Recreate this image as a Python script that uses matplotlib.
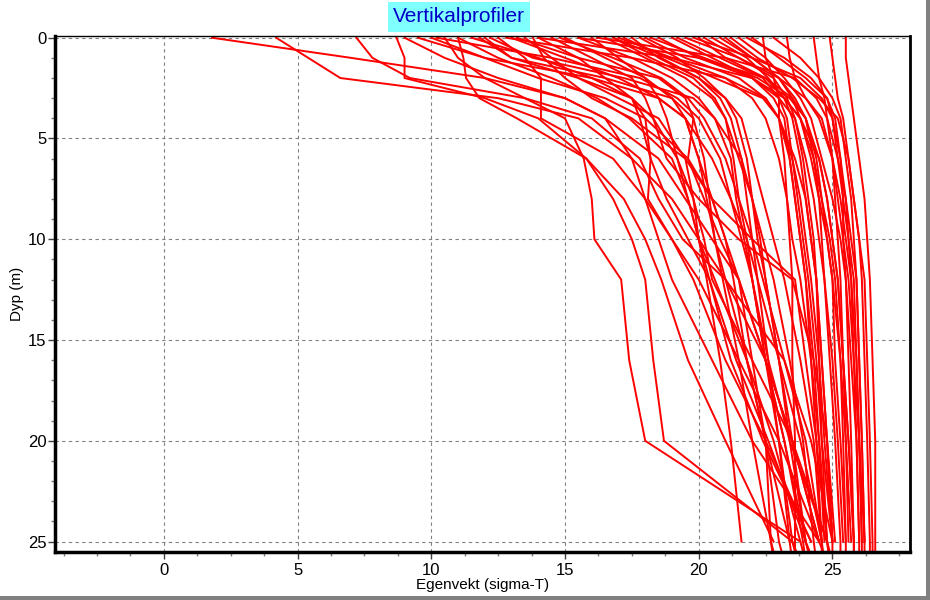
import numpy as np
import matplotlib
matplotlib.use("Agg")
import matplotlib.pyplot as plt
from matplotlib.ticker import MultipleLocator
from matplotlib.patches import Rectangle

# dybder (m) felles for alle profiler
dyp = [0, 1, 2, 3, 4, 6, 8, 10, 12, 16, 20, 25, 26]
nan = np.nan

# egenvekt (sigma-T) per profil, en verdi per dybde
ferske = [
    [1.8, 7.0, 12.0, 15.0, 16.5, 18.5, 19.5, 20.5, 21.5, 22.5, 23.5, 24.5, nan],
    [4.2, 5.4, 6.6, 12.5, 15.5, 17.5, 19.0, 20.0, 21.0, 22.5, 23.2, 24.0, 24.2],
    [7.2, 7.8, 9.2, 13.5, 15.0, 15.7, 16.0, 16.1, 17.1, 17.4, 18.0, 23.8, 24.0],
    [8.7, 9.0, 9.0, 12.0, 14.0, 15.8, 16.8, 17.5, 18.0, 18.3, 18.7, 23.5, 23.8],
    [11.0, 11.2, 11.3, 11.8, 13.2, 15.8, 17.2, 18.0, 18.6, 19.6, 21.0, 22.8, nan],
    [9.0, 10.5, 12.5, 15.0, 16.5, 17.5, 18.0, 18.5, 19.0, 20.5, 22.0, 24.5, nan],
]

middels = [
    [12.5, 13.5, 14.1, 14.1, 14.1, 16.8, 18.0, 19.0, 19.8, 21.0, 22.5, 24.2, nan],
    [10.0, 12.0, 14.0, 16.5, 18.0, 19.6, 20.2, 20.8, 21.5, 22.5, 23.5, 24.8, nan],
    [13.0, 15.0, 17.0, 18.5, 19.5, 20.5, 21.2, 21.8, 22.2, 23.0, 23.8, 24.6, nan],
    [14.0, 15.5, 16.5, 17.5, 17.8, 18.2, 18.8, 19.6, 20.4, 21.4, 22.6, 24.0, 24.3],
    [15.0, 16.5, 18.0, 19.0, 19.5, 20.0, 20.5, 21.0, 21.5, 22.0, 22.5, 23.0, 23.2],
    [11.5, 14.0, 16.0, 17.5, 18.0, 18.2, 18.1, 19.0, 20.0, 21.5, 23.0, 24.5, nan],
    [13.5, 14.5, 15.5, 17.0, 18.5, 19.5, 19.8, 20.0, 20.3, 20.8, 21.2, 21.6, nan],
    [12.0, 13.0, 15.5, 17.5, 18.3, 19.2, 19.6, 20.0, 20.6, 21.8, 22.8, 23.8, nan],
    [14.5, 16.0, 17.5, 18.0, 18.3, 18.8, 20.0, 21.5, 23.5, 24.3, 24.8, 25.0, nan],
    [16.0, 17.0, 18.0, 18.5, 18.8, 19.2, 19.8, 20.2, 20.5, 22.0, 23.5, 24.5, 24.8],
    [10.5, 11.0, 12.0, 13.5, 16.0, 17.8, 18.5, 19.4, 21.0, 23.2, 24.2, 25.0, nan],
    [15.5, 17.5, 19.0, 20.0, 20.6, 21.2, 21.4, 21.7, 22.0, 22.5, 23.0, 23.5, 23.7],
    [13.8, 14.2, 15.0, 16.0, 17.5, 19.5, 20.5, 21.0, 21.3, 21.8, 22.5, 22.7, 22.8],
    [16.5, 18.0, 19.5, 20.5, 21.0, 21.5, 22.0, 22.3, 22.5, 23.0, 23.4, 24.0, nan],
]

blandet = [
    [9.5, 12.0, 16.0, 18.5, 19.5, 20.0, 20.3, 20.6, 21.0, 21.8, 22.5, 23.4, nan],
    [11.8, 13.0, 16.5, 19.0, 19.8, 20.2, 20.4, 20.6, 20.9, 21.5, 22.0, 22.7, 22.9],
    [13.2, 15.5, 18.5, 19.5, 19.8, 19.6, 20.5, 22.0, 23.6, 24.0, 24.4, 24.8, nan],
    [10.2, 14.5, 17.8, 19.2, 20.0, 20.8, 21.2, 21.6, 22.0, 22.6, 23.4, 24.8, 25.0],
    [14.8, 16.8, 18.6, 19.6, 20.2, 21.0, 21.5, 22.0, 22.4, 23.2, 24.0, 24.6, nan],
    [12.2, 13.8, 17.2, 19.8, 20.6, 21.6, 22.0, 22.4, 22.8, 23.4, 23.9, 24.3, 24.4],
    [16.8, 18.6, 20.0, 20.8, 21.2, 21.6, 21.8, 22.0, 22.2, 22.6, 23.0, 23.4, 23.5],
    [11.0, 12.5, 14.5, 16.2, 17.4, 19.0, 19.6, 20.0, 20.4, 21.2, 22.4, 24.2, nan],
]

salte = [
    [17.0, 19.0, 21.0, 22.0, 22.5, 23.0, 23.3, 23.5, 23.8, 24.2, 24.5, 24.8, 24.9],
    [18.0, 19.5, 21.5, 22.5, 23.0, 23.5, 23.8, 24.0, 24.2, 24.5, 24.7, 25.0, nan],
    [19.0, 20.5, 22.0, 22.8, 23.2, 23.4, 23.6, 23.8, 24.0, 24.3, 24.5, 24.7, nan],
    [17.5, 18.5, 20.0, 21.0, 21.6, 22.0, 22.4, 22.8, 23.2, 23.8, 24.3, 24.6, 24.7],
    [20.0, 21.0, 22.5, 23.2, 23.5, 23.8, 24.0, 24.2, 24.4, 24.6, 24.8, 25.0, 25.0],
    [18.5, 20.0, 22.0, 23.0, 23.6, 24.0, 24.3, 24.5, 24.7, 25.0, 25.2, 25.4, nan],
    [21.0, 22.0, 23.0, 23.5, 23.8, 24.2, 24.5, 24.8, 25.0, 25.3, 25.5, 25.7, nan],
    [19.5, 21.5, 22.8, 23.3, 23.6, 23.9, 24.1, 24.3, 24.4, 24.5, 24.6, 24.8, 24.9],
    [17.8, 19.2, 20.2, 21.0, 21.4, 21.8, 22.0, 22.2, 22.5, 23.0, 23.5, 24.0, 24.2],
    [20.5, 21.8, 22.6, 23.2, 23.8, 24.5, 24.8, 25.0, 25.2, 25.4, 25.6, 25.8, 25.8],
    [18.2, 20.2, 22.2, 23.4, 24.0, 24.4, 24.6, 24.9, 25.1, 25.3, 25.4, 25.5, nan],
    [21.5, 22.5, 23.2, 23.8, 24.2, 24.6, 25.0, 25.3, 25.5, 25.7, 25.9, 26.0, nan],
    [16.8, 18.2, 19.8, 20.6, 21.0, 21.3, 21.5, 21.8, 22.0, 22.5, 23.2, 23.9, 24.0],
    [19.2, 20.8, 22.4, 23.0, 23.3, 23.5, 23.7, 23.9, 24.1, 24.4, 24.6, 25.0, nan],
    [20.8, 22.0, 23.0, 23.6, 24.0, 24.3, 24.5, 24.6, 24.7, 24.9, 25.1, 25.3, 25.3],
    [17.2, 18.8, 20.6, 22.4, 23.0, 23.6, 24.0, 24.2, 24.4, 24.6, 24.8, 25.1, nan],
    [15.5, 20.0, 22.5, 23.5, 24.0, 24.5, 24.8, 25.0, 25.2, 25.4, 25.6, 25.8, nan],
    [14.0, 19.0, 22.0, 23.2, 23.8, 24.3, 24.6, 24.8, 25.0, 25.1, 25.3, 25.5, 25.5],
    [16.2, 21.0, 23.6, 24.4, 24.8, 25.2, 25.5, 25.7, 25.9, 26.0, 26.1, 26.2, nan],
    [12.8, 17.5, 21.0, 22.5, 23.0, 23.4, 23.6, 23.8, 24.0, 24.2, 24.4, 24.6, 24.6],
]

homogene = [
    [22.4, 22.5, 22.8, 23.0, 23.0, 23.2, 23.3, 23.4, 23.5, 23.5, 23.6, 23.6, 23.6],
    [23.3, 23.4, 23.6, 24.0, 24.5, 25.0, 25.3, 25.5, 25.7, 25.9, 26.0, 26.1, 26.1],
    [24.9, 25.0, 25.1, 25.2, 25.4, 25.6, 25.8, 26.0, 26.2, 26.3, 26.4, 26.5, 26.5],
    [25.5, 25.5, 25.6, 25.7, 25.8, 26.0, 26.2, 26.3, 26.4, 26.5, 26.6, 26.6, 26.6],
    [22.0, 23.0, 24.0, 24.8, 25.0, 25.2, 25.4, 25.6, 25.8, 25.9, 26.0, 26.1, nan],
    [21.2, 22.2, 23.5, 24.5, 25.2, 25.6, 25.8, 26.0, 26.1, 26.2, 26.3, 26.4, 26.4],
    [22.8, 23.8, 24.5, 25.0, 25.3, 25.5, 25.7, 25.8, 25.9, 26.0, 26.1, 26.2, nan],
    [19.8, 22.0, 23.8, 24.6, 25.0, 25.3, 25.5, 25.6, 25.7, 25.8, 25.9, 26.0, 26.0],
    [21.8, 23.2, 24.2, 24.8, 25.1, 25.3, 25.4, 25.4, 25.5, 25.6, 25.7, 25.8, 25.8],
    [20.2, 21.5, 23.0, 24.0, 24.6, 25.0, 25.1, 25.2, 25.3, 25.4, 25.5, 25.6, nan],
    [24.3, 24.4, 24.5, 24.7, 24.8, 25.0, 25.2, 25.4, 25.6, 25.8, 26.0, 26.2, 26.2],
]

plt.rcParams['font.family'] = ['Liberation Sans', 'DejaVu Sans']

fig = plt.figure(figsize=(9.3, 6.0), dpi=100)
ax = fig.add_axes([55 / 930, 1 - 551.7 / 600, (910 - 55) / 930, (551.7 - 35.7) / 600])

for gruppe in (ferske, middels, blandet, salte, homogene):
    for profil in gruppe:
        ax.plot(profil, dyp, color='#ff0000', lw=1.4, solid_joinstyle='miter')

ax.set_xlim(-4.07, 27.9)
ax.set_ylim(25.5, -0.1)
ax.xaxis.set_major_locator(MultipleLocator(5))
ax.xaxis.set_minor_locator(MultipleLocator(1.25))
ax.yaxis.set_major_locator(MultipleLocator(5))
ax.yaxis.set_minor_locator(MultipleLocator(1))
ax.tick_params(which='major', length=5, width=1, labelsize=12, color='#404040')
ax.tick_params(which='minor', length=3, width=1, color='#808080')
ax.tick_params(axis='x', pad=3)
ax.tick_params(axis='y', pad=1)
ax.grid(True, which='major', color='#808080', linestyle=(0, (3, 3)), lw=0.8)

for side, lw in (('left', 2.5), ('bottom', 2.5), ('right', 2.0), ('top', 1.0)):
    ax.spines[side].set_linewidth(lw)
    ax.spines[side].set_color('black')

ax.set_xlabel('Egenvekt (sigma-T)', fontsize=11, labelpad=0)
ax.set_ylabel('Dyp (m)', fontsize=11, labelpad=3)

fig.text(459 / 930, 1 - 17 / 600, 'Vertikalprofiler', ha='center', va='center',
         fontsize=15, color='#0000c8',
         bbox=dict(facecolor='#80ffff', edgecolor='none', boxstyle='square,pad=0.25'))

# grå ramme nederst og til høyre
fig.patches.append(Rectangle((0, 0), 1, 4 / 600, transform=fig.transFigure,
                             facecolor='#808080', edgecolor='none'))
fig.patches.append(Rectangle((1 - 4 / 930, 0), 4 / 930, 1, transform=fig.transFigure,
                             facecolor='#808080', edgecolor='none'))

fig.savefig('out.png', dpi=100)
